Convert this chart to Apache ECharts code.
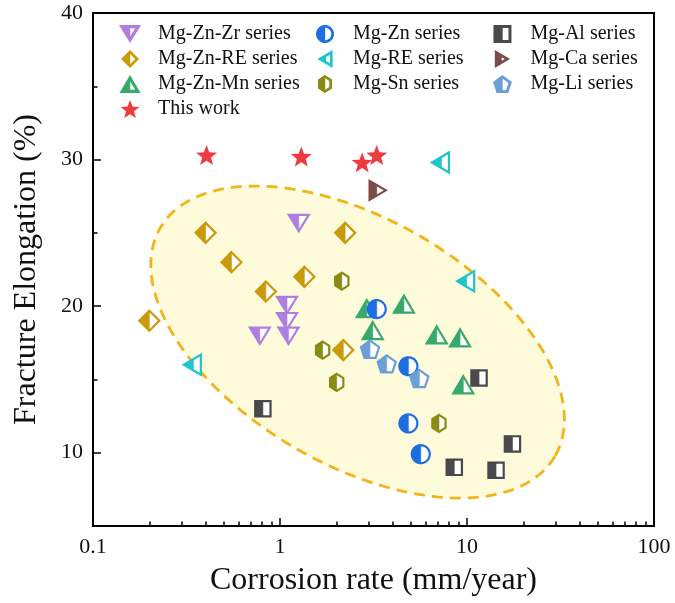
<!DOCTYPE html>
<html>
<head>
<meta charset="utf-8">
<script src="https://cdn.jsdelivr.net/npm/echarts@6/dist/echarts.min.js"></script>
<style>
html, body { margin: 0; padding: 0; background: #fff; }
#chart { width: 675px; height: 603px; }
</style>
</head>
<body>
<div id="chart"></div>
<script>
// Series names (legend entries)
const seriesNames = [
  'Mg-Zn-Zr series', 'Mg-Zn-RE series', 'Mg-Zn-Mn series', 'This work',
  'Mg-Zn series', 'Mg-RE series', 'Mg-Sn series',
  'Mg-Al series', 'Mg-Ca series', 'Mg-Li series'
];

// [corrosion rate (mm/year), fracture elongation (%)]
const mgZnZr = [[1.26, 25.7], [1.09, 20.1], [1.09, 19.0], [1.11, 18.0], [0.78, 18.0]];
const mgZnRE = [[0.40, 25.0], [0.55, 23.0], [1.35, 22.0], [0.84, 21.0], [2.23, 25.0], [0.20, 19.0], [2.18, 17.0]];
const mgZnMn = [[2.91, 19.8], [4.60, 20.1], [3.13, 18.3], [6.89, 18.0], [9.18, 17.8], [9.55, 14.6]];
const thisWork = [[0.405, 30.3], [1.30, 30.2], [2.75, 29.8], [3.29, 30.3]];
const mgZn = [[3.29, 19.8], [4.86, 15.9], [4.86, 12.0], [5.66, 9.9]];
const mgRE = [[7.30, 29.8], [9.96, 21.7], [0.344, 16.0]];
const mgSn = [[2.14, 21.7], [1.69, 17.0], [2.01, 14.8], [7.08, 12.0]];
const mgAl = [[0.81, 13.0], [11.6, 15.1], [17.5, 10.6], [8.55, 9.0], [14.3, 8.8]];
const mgCa = [[3.29, 27.9]];
const mgLi = [[3.03, 17.0], [3.72, 16.0], [5.56, 15.0]];

// Axis ticks and labels
const xLabelValues = [0.1, 1, 10, 100];
const xMinorTicks = [0.2, 0.3, 0.4, 0.5, 0.6, 0.7, 0.8, 0.9, 2, 3, 4, 5, 6, 7, 8, 9, 20, 30, 40, 50, 60, 70, 80, 90];
const yLabelValues = [10, 20, 30, 40];
const yMinorTicks = [15, 25, 35];

// Centre of the highlighted zone, in data units
const zoneCentre = [2.60, 17.55];

const FONT = "'Liberation Serif', 'Times New Roman', serif";

// ---- marker outlines in a unit box (y pointing down) ----
function ring(n, startDeg, rx, ry) {
  const pts = [];
  for (let i = 0; i < n; i++) {
    const a = (startDeg + 360 * i / n) * Math.PI / 180;
    pts.push([rx * Math.cos(a), ry * Math.sin(a)]);
  }
  return pts;
}
function starShape() {
  const pts = [];
  for (let i = 0; i < 10; i++) {
    const a = (-90 + 36 * i) * Math.PI / 180;
    const r = i % 2 === 0 ? 1 : 0.42;
    pts.push([r * Math.cos(a), r * Math.sin(a) + 0.08]);
  }
  return pts;
}
const SHAPES = {
  triDown: [[-1, -0.78], [1, -0.78], [0, 0.85]],
  diamond: [[0, -1], [1, 0], [0, 1], [-1, 0]],
  triUp: [[0, -0.9], [1, 0.8], [-1, 0.8]],
  star: starShape(),
  circle: ring(40, 0, 1, 1),
  triLeft: [[-0.95, 0], [0.75, -1], [0.75, 1]],
  hexagon: ring(6, -90, 0.9, 1),
  square: [[-0.9, -0.9], [0.9, -0.9], [0.9, 0.9], [-0.9, 0.9]],
  triRight: [[0.95, 0], [-0.75, 1], [-0.75, -1]],
  pentagon: ring(5, -90, 1, 1)
};

// keep the part of a convex polygon on one side of x = c
function clipHalf(poly, keepLeft, c) {
  const inside = p => keepLeft ? p[0] <= c : p[0] >= c;
  const out = [];
  for (let i = 0; i < poly.length; i++) {
    const A = poly[i], B = poly[(i + 1) % poly.length];
    const ia = inside(A), ib = inside(B);
    if (ia) out.push(A);
    if (ia !== ib) {
      const t = (c - A[0]) / (B[0] - A[0]);
      out.push([c, A[1] + t * (B[1] - A[1])]);
    }
  }
  return out;
}
function signedArea(poly) {
  let s = 0;
  for (let i = 0; i < poly.length; i++) {
    const A = poly[i], B = poly[(i + 1) % poly.length];
    s += A[0] * B[1] - B[0] * A[1];
  }
  return s / 2;
}
// shrink a convex polygon by distance d
function inset(poly, d) {
  const sgn = signedArea(poly) > 0 ? 1 : -1;
  const lines = poly.map((A, i) => {
    const B = poly[(i + 1) % poly.length];
    const dx = B[0] - A[0], dy = B[1] - A[1];
    const len = Math.hypot(dx, dy);
    const nx = sgn * -dy / len, ny = sgn * dx / len;
    return { p: [A[0] + nx * d, A[1] + ny * d], v: [dx, dy] };
  });
  return lines.map((L2, i) => {
    const L1 = lines[(i - 1 + lines.length) % lines.length];
    const cr = L1.v[0] * L2.v[1] - L1.v[1] * L2.v[0];
    const wx = L2.p[0] - L1.p[0], wy = L2.p[1] - L1.p[1];
    const t = (wx * L2.v[1] - wy * L2.v[0]) / cr;
    return [L1.p[0] + t * L1.v[0], L1.p[1] + t * L1.v[1]];
  });
}
function toPath(poly) {
  return 'M' + poly.map(p => ((p[0] + 1) * 50).toFixed(2) + ',' + ((p[1] + 1) * 50).toFixed(2)).join('L') + 'Z';
}
// legend icon: left half solid, right half hollow
function legendIcon(shape, solid) {
  if (solid) return 'path://' + toPath(shape);
  let hole = clipHalf(inset(shape, 0.3), false, 0.02);
  if (Math.sign(signedArea(hole)) === Math.sign(signedArea(shape))) hole = hole.slice().reverse();
  return 'path://' + toPath(shape) + toPath(hole);
}

// ---- marker drawing for the scatter groups ----
function markerRender(shape, size, color, solid) {
  const half = solid ? null : clipHalf(shape, true, 0);
  return function (params, api) {
    const p = api.coord([api.value(0), api.value(1)]);
    const r = size / 2;
    const map = pts => pts.map(q => [p[0] + q[0] * r, p[1] + q[1] * r]);
    const children = [{
      type: 'polygon',
      shape: { points: map(shape) },
      style: { fill: solid ? color : '#fff', stroke: color, lineWidth: solid ? 0 : 2.2, lineJoin: 'miter' }
    }];
    if (!solid) {
      children.push({
        type: 'polygon',
        shape: { points: map(half) },
        style: { fill: color, stroke: color, lineWidth: 0.6 }
      });
    }
    return { type: 'group', children };
  };
}

const groups = [
  { name: seriesNames[0], data: mgZnZr, shape: 'triDown', size: 20, color: '#ae7ee3' },
  { name: seriesNames[1], data: mgZnRE, shape: 'diamond', size: 20, color: '#c99a0a' },
  { name: seriesNames[2], data: mgZnMn, shape: 'triUp', size: 20, color: '#37a96b' },
  { name: seriesNames[4], data: mgZn, shape: 'circle', size: 18, color: '#1d6fe0', },
  { name: seriesNames[5], data: mgRE, shape: 'triLeft', size: 20, color: '#1ec5c9' },
  { name: seriesNames[6], data: mgSn, shape: 'hexagon', size: 17, color: '#8a8c12' },
  { name: seriesNames[7], data: mgAl, shape: 'square', size: 17, color: '#4a4a4c' },
  { name: seriesNames[8], data: mgCa, shape: 'triRight', size: 19, color: '#7b4c4a' },
  { name: seriesNames[9], data: mgLi, shape: 'pentagon', size: 19, color: '#6c9fd6' },
  { name: seriesNames[3], data: thisWork, shape: 'star', size: 22, color: '#ee3b3f', solid: true }
];

const markerSeries = groups.map(g => ({
  type: 'custom',
  name: g.name,
  coordinateSystem: 'cartesian2d',
  xAxisIndex: 0,
  yAxisIndex: 0,
  data: g.data,
  encode: { x: 0, y: 1 },
  itemStyle: { color: g.color },
  z: 5,
  renderItem: markerRender(SHAPES[g.shape], g.size, g.color, !!g.solid)
}));

// dashed elliptical zone behind the markers
const zoneSeries = {
  type: 'custom',
  name: 'zone',
  coordinateSystem: 'cartesian2d',
  xAxisIndex: 0,
  yAxisIndex: 0,
  data: [zoneCentre],
  encode: { x: 0, y: 1 },
  silent: true,
  z: 1,
  renderItem: function (params, api) {
    const c = api.coord([api.value(0), api.value(1)]);
    const a = 228, b = 123, tilt = 30 * Math.PI / 180;
    const ct = Math.cos(tilt), st = Math.sin(tilt);
    const pts = [];
    for (let i = 0; i < 180; i++) {
      const t = 2 * Math.PI * i / 180;
      const x = a * Math.cos(t), y = b * Math.sin(t);
      pts.push([c[0] + x * ct - y * st, c[1] + x * st + y * ct]);
    }
    return {
      type: 'polygon',
      shape: { points: pts },
      style: { fill: '#fdfbd9', stroke: '#f3b41a', lineWidth: 2.8, lineDash: [11, 7] }
    };
  }
};

function legendBlock(names, left) {
  return {
    orient: 'vertical',
    left: left,
    top: 24,
    padding: 0,
    itemWidth: 46,
    itemHeight: 18,
    itemGap: 5,
    selectedMode: false,
    itemStyle: { borderWidth: 0 },
    textStyle: { fontFamily: FONT, fontSize: 20, color: '#111', lineHeight: 20 },
    data: names.map(n => {
      const g = groups.find(q => q.name === n);
      return { name: n, icon: legendIcon(SHAPES[g.shape], !!g.solid) };
    })
  };
}

const chart = echarts.init(document.getElementById('chart'), null, { renderer: 'canvas' });
chart.setOption({
  animation: false,
  backgroundColor: '#fff',
  grid: { left: 93, right: 21, top: 13, bottom: 77, show: true, borderColor: '#000', borderWidth: 2, backgroundColor: 'transparent' },
  legend: [
    legendBlock(seriesNames.slice(0, 4), 119),
    legendBlock(seriesNames.slice(4, 7), 316),
    legendBlock(seriesNames.slice(7, 10), 493)
  ],
  xAxis: [
    {
      type: 'log', logBase: 10, min: 0.1, max: 100,
      position: 'bottom',
      axisLine: { show: true, onZero: false, lineStyle: { color: '#000', width: 2 } },
      axisTick: { show: true, inside: true, length: 8, customValues: xLabelValues, lineStyle: { color: '#000', width: 1.5 } },
      axisLabel: { show: true, customValues: xLabelValues, margin: 10, color: '#111', fontFamily: FONT, fontSize: 22,
        formatter: v => String(Math.round(v * 10) / 10) },
      splitLine: { show: false },
      name: 'Corrosion rate (mm/year)',
      nameLocation: 'middle',
      nameGap: 39,
      nameTextStyle: { fontFamily: FONT, fontSize: 32, color: '#111' }
    },
    {
      type: 'log', logBase: 10, min: 0.1, max: 100,
      position: 'bottom',
      axisLine: { show: false },
      axisTick: { show: true, inside: true, length: 4.5, customValues: xMinorTicks, lineStyle: { color: '#000', width: 1.5 } },
      axisLabel: { show: false },
      splitLine: { show: false }
    }
  ],
  yAxis: [
    {
      type: 'value', min: 5, max: 40,
      axisLine: { show: true, onZero: false, lineStyle: { color: '#000', width: 2 } },
      axisTick: { show: true, inside: true, length: 8, customValues: yLabelValues, lineStyle: { color: '#000', width: 1.5 } },
      axisLabel: { show: true, customValues: yLabelValues, margin: 10, color: '#111', fontFamily: FONT, fontSize: 22 },
      splitLine: { show: false },
      name: 'Fracture Elongation (%)',
      nameLocation: 'middle',
      nameGap: 50,
      nameTextStyle: { fontFamily: FONT, fontSize: 32, color: '#111' }
    },
    {
      type: 'value', min: 5, max: 40,
      position: 'left',
      axisLine: { show: false },
      axisTick: { show: true, inside: true, length: 4.5, customValues: yMinorTicks, lineStyle: { color: '#000', width: 1.5 } },
      axisLabel: { show: false },
      splitLine: { show: false }
    }
  ],
  series: [zoneSeries].concat(markerSeries)
});
</script>
</body>
</html>
